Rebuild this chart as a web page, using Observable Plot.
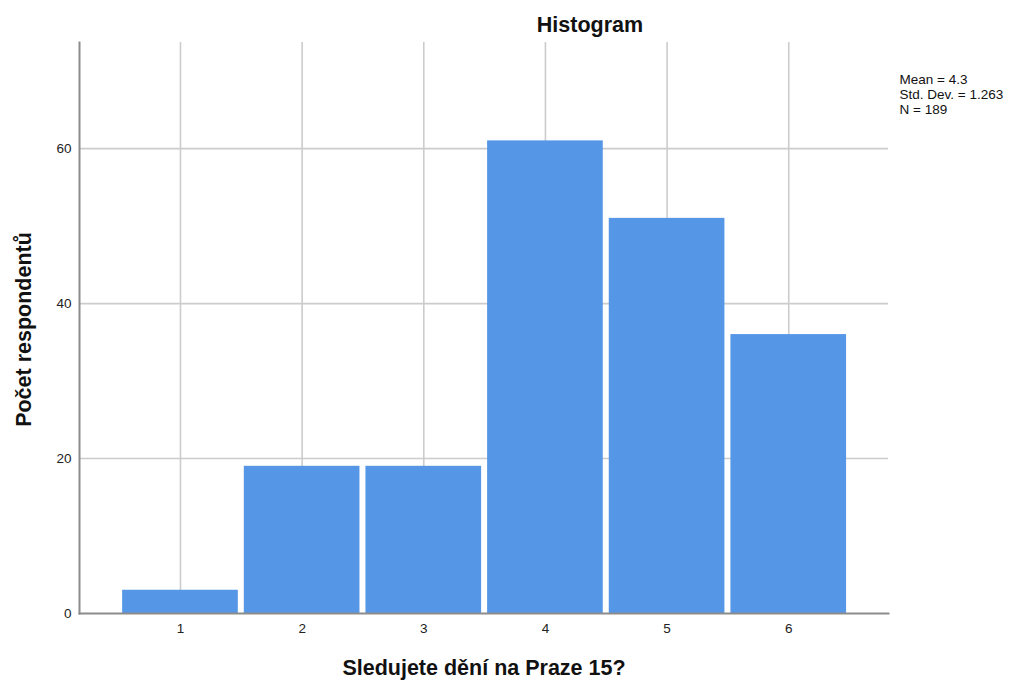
<!DOCTYPE html>
<html><head><meta charset="utf-8">
<script src="https://cdn.jsdelivr.net/npm/d3@7"></script>
<script src="https://cdn.jsdelivr.net/npm/@observablehq/plot@0.6"></script>
<style>
body{margin:0;background:#fff}
#chart svg{font-family:"Liberation Sans",Arial,sans-serif;display:block}
</style>
</head><body><div id="chart"></div>
<script>
const categories = [1, 2, 3, 4, 5, 6];
const counts = [3, 19, 19, 61, 51, 36];
const yTicks = [0, 20, 40, 60];
const yGrid = [20, 40, 60];
const statsLines = ["Mean = 4.3", "Std. Dev. = 1.263", "N = 189"];
const title = "Histogram";
const xLabel = "Sledujete dění na Praze 15?";
const yLabel = "Počet respondentů";

const data = categories.map((c, i) => ({x1: c - 0.5, x2: c + 0.5, count: counts[i]}));

const chart = Plot.plot({
  width: 1021,
  height: 682,
  marginLeft: 79,
  marginRight: 133,
  marginTop: 42,
  marginBottom: 69,
  style: {fontFamily: '"Liberation Sans", Arial, sans-serif', fontSize: "13px", color: "#222", background: "white"},
  x: {domain: [0.17, 6.82]},
  y: {domain: [0, 73.7]},
  marks: [
    Plot.gridX(categories, {stroke: "#cccccc", strokeOpacity: 1, strokeWidth: 1.6}),
    Plot.gridY(yGrid, {stroke: "#cccccc", strokeOpacity: 1, strokeWidth: 1.6}),
    Plot.rectY(data, {x1: "x1", x2: "x2", y: "count", fill: "#5596e6", insetLeft: 3, insetRight: 3}),
    Plot.frame({anchor: "left", stroke: "#8c8c8c", strokeWidth: 2}),
    Plot.frame({anchor: "bottom", stroke: "#8c8c8c", strokeWidth: 2}),
    Plot.axisX(categories, {tickSize: 0, tickPadding: 10, label: null, fontSize: 13.5, tickFormat: d3.format("d")}),
    Plot.axisY(yTicks, {tickSize: 0, tickPadding: 8, label: null, fontSize: 13.5, tickFormat: d3.format("d")}),
    Plot.text([title], {frameAnchor: "top", dx: 106, dy: -17.5, lineAnchor: "middle", fontSize: 21.5, fontWeight: "bold", fill: "#111"}),
    Plot.text([xLabel], {frameAnchor: "bottom", dy: 55, lineAnchor: "middle", fontSize: 21.5, fontWeight: "bold", fill: "#111"}),
    Plot.text([yLabel], {frameAnchor: "left", textAnchor: "middle", dx: -55, dy: 1.5, rotate: -90, lineAnchor: "middle", fontSize: 21.5, fontWeight: "bold", fill: "#111"}),
    Plot.text([statsLines.join("\n")], {frameAnchor: "top-right", textAnchor: "start", lineAnchor: "top", dx: 11, dy: 31, lineHeight: 1.12, fontSize: 13.5, fill: "#111"})
  ]
});
document.getElementById("chart").appendChild(chart);
</script>
</body></html>
